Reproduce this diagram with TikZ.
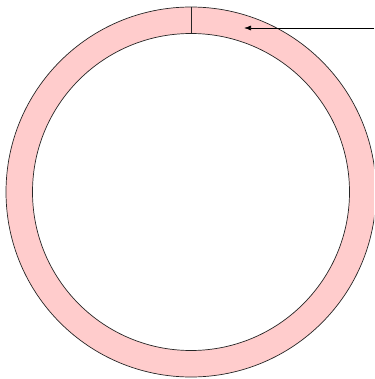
\documentclass[tikz,border=0pt]{standalone}
\usepackage{tikz}
\usetikzlibrary{arrows.meta}
\definecolor{ringpink}{RGB}{255,204,204}

\begin{document}
\begin{tikzpicture}[x=1pt,y=-1pt]
\useasboundingbox (0,0) rectangle (374,379);
\clip (0,0) rectangle (374,379);
\coordinate (o) at (191,192);
\fill[ringpink,even odd rule] (o) circle[radius=185] (o) circle[radius=158.5];
\draw[black!85,line width=0.7pt] (o) circle[radius=185];
\draw[black!85,line width=0.7pt] (o) circle[radius=158.5];
\coordinate (top) at (191,7);
\coordinate (bot) at (191,33.5);
\draw[black!85,line width=0.7pt] (top)--(bot);
\coordinate (tail) at (374,28);
\coordinate (head) at (244,28);
\draw[line width=0.7pt,-{Latex[length=7pt,width=5pt]}] (tail)--(head);
\end{tikzpicture}
\end{document}
